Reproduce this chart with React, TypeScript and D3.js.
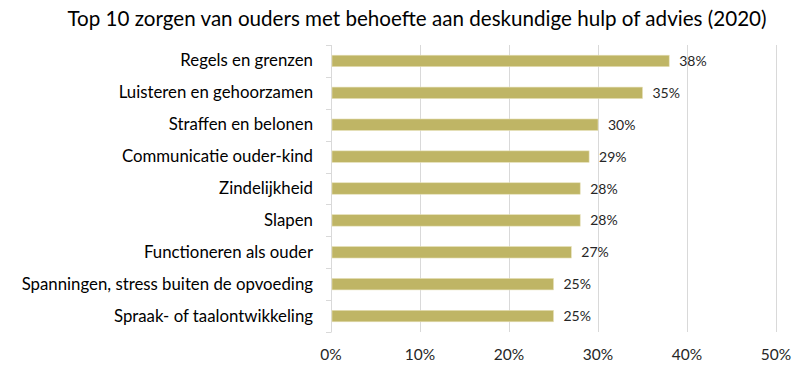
import { useEffect, useRef } from "react";
import * as d3 from "d3";

const categories = [
  "Regels en grenzen",
  "Luisteren en gehoorzamen",
  "Straffen en belonen",
  "Communicatie ouder-kind",
  "Zindelijkheid",
  "Slapen",
  "Functioneren als ouder",
  "Spanningen, stress buiten de opvoeding",
  "Spraak- of taalontwikkeling",
];
const values = [38, 35, 30, 29, 28, 28, 27, 25, 25];
const xTicks = [0, 10, 20, 30, 40, 50];
const title = "Top 10 zorgen van ouders met behoefte aan deskundige hulp of advies (2020)";

const W = 800;
const H = 370;
const FONT = "Lato, 'Open Sans', sans-serif";

const App = () => {
  const svgRef = useRef<SVGSVGElement>(null);

  useEffect(() => {
    const svg = d3.select(svgRef.current);
    svg.selectAll("*").remove();

    const left = 331, right = 776, top = 45, bottom = 332;

    const x = d3.scaleLinear().domain([0, 50]).range([left, right]);
    const y = d3.scaleBand().domain(categories).range([top, bottom]).paddingInner(0.64).paddingOuter(0.32);
    const band = d3.scaleBand().domain(categories).range([top, bottom]);

    // title
    svg.append("text")
      .attr("x", 417).attr("y", 26)
      .attr("text-anchor", "middle")
      .attr("font-family", FONT)
      .attr("font-size", 20.6)
      .attr("fill", "#000")
      .text(title);

    // gridlines
    svg.append("g")
      .selectAll("line")
      .data(xTicks.slice(1))
      .join("line")
      .attr("x1", (d) => x(d) + 0.5).attr("x2", (d) => x(d) + 0.5)
      .attr("y1", top).attr("y2", bottom)
      .attr("stroke", "#d9d9d9").attr("stroke-width", 1);

    // category axis line + ticks
    const ga = svg.append("g").attr("stroke", "#d9d9d9");
    ga.append("line").attr("x1", left + 0.5).attr("x2", left + 0.5).attr("y1", top).attr("y2", bottom);
    const bounds = categories.map((c) => band(c) as number).concat([bottom]);
    ga.selectAll(".tk").data(bounds).join("line").attr("class", "tk")
      .attr("x1", left - 5).attr("x2", left + 0.5)
      .attr("y1", (d) => Math.round(d) + 0.5).attr("y2", (d) => Math.round(d) + 0.5);

    // bars
    svg.append("g")
      .selectAll("rect")
      .data(values)
      .join("rect")
      .attr("x", left + 1)
      .attr("y", (_, i) => y(categories[i]) as number)
      .attr("width", (d) => x(d) - left - 1)
      .attr("height", y.bandwidth())
      .attr("fill", "#bfb565")
      .attr("stroke", "#e6e0b8").attr("stroke-width", 0.6);

    // value labels
    svg.append("g")
      .selectAll("text")
      .data(values)
      .join("text")
      .attr("x", (d) => x(d) + 10)
      .attr("y", (_, i) => (y(categories[i]) as number) + y.bandwidth() / 2 + 5)
      .attr("font-family", FONT)
      .attr("font-size", 14)
      .attr("fill", "#262626")
      .text((d) => `${d}%`);

    // category labels
    svg.append("g")
      .selectAll("text")
      .data(categories)
      .join("text")
      .attr("x", 313)
      .attr("y", (d) => (y(d) as number) + y.bandwidth() / 2 + 5.5)
      .attr("text-anchor", "end")
      .attr("font-family", FONT)
      .attr("font-size", 16.8)
      .attr("fill", "#000")
      .text((d) => d);

    // x tick labels
    svg.append("g")
      .selectAll("text")
      .data(xTicks)
      .join("text")
      .attr("x", (d) => x(d))
      .attr("y", 360)
      .attr("text-anchor", "middle")
      .attr("font-family", FONT)
      .attr("font-size", 15.5)
      .attr("fill", "#262626")
      .text((d) => `${d}%`);
  }, []);

  return (
    <div style={{ position: "absolute", left: 0, top: 0, width: W, height: H, background: "#fff" }}>
      <svg ref={svgRef} width={W} height={H}></svg>
    </div>
  );
};

export default App;
